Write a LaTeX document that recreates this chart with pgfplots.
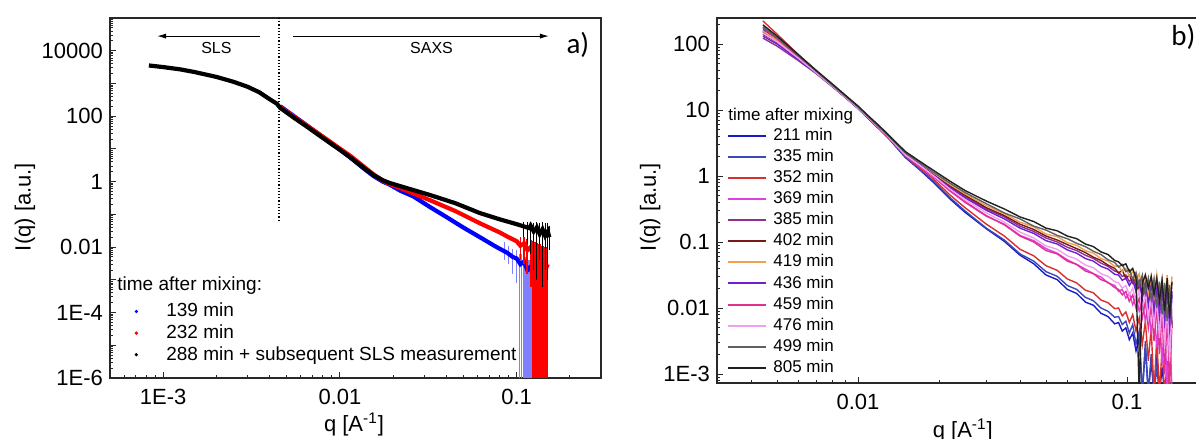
\documentclass[border=0pt]{standalone}
\usepackage{fontspec}
\setmainfont{Liberation Sans}
\newfontfamily\calibri{Carlito}
\usepackage{pgfplots}
\usepackage{pgfplotstable}
\pgfplotsset{compat=1.18}
\usetikzlibrary{arrows.meta}

\definecolor{cA}{RGB}{26,26,204}
\definecolor{cB}{RGB}{58,74,184}
\definecolor{cC}{RGB}{216,48,48}
\definecolor{cD}{RGB}{224,64,224}
\definecolor{cE}{RGB}{144,48,144}
\definecolor{cF}{RGB}{122,24,24}
\definecolor{cG}{RGB}{240,160,80}
\definecolor{cH}{RGB}{112,32,208}
\definecolor{cI}{RGB}{224,48,144}
\definecolor{cJ}{RGB}{240,160,240}
\definecolor{cK}{RGB}{96,96,96}
\definecolor{cL}{RGB}{32,32,32}
\definecolor{axgray}{RGB}{40,40,40}

\pgfplotstableread{
q      s211    s335    s352    s369    s385    s402    s419    s436    s459    s476    s499    s805
0.00443 166    158     224     151     123     141     158     132     174     145     182     195
0.005  118     113     141     110     93      106     114     100     120     108     125     132
0.006  64.5    62.0    69.0    61.5    56.0    60.5    62.5    58.5    64.0    61.0    66.0    69.0
0.007  37.9    36.8    38.5    36.5    35.5    36.5    37.0    36.0    37.5    36.5    38.5    39.8
0.008  23.6    23.1    23.5    23.2    22.8    23.2    23.4    23.0    23.5    23.2    24.0    25.1
0.009  15.4    15.3    15.6    15.5    15.4    15.5    15.6    15.5    15.6    15.5    16.0    16.6
0.010  10.5    10.6    10.8    10.7    10.7    10.8    10.8    10.7    10.8    10.7    11.1    11.5
0.011  7.20    7.30    7.45    7.45    7.50    7.50    7.55    7.45    7.45    7.45    7.65    7.94
0.012  5.10    5.20    5.28    5.30    5.35    5.35    5.40    5.32    5.30    5.30    5.45    5.75
0.013  3.70    3.75    3.82    3.85    3.90    3.90    3.95    3.88    3.85    3.85    3.98    4.17
0.015  1.905   1.950   1.995   2.042   2.138   2.138   2.188   2.138   2.089   2.089   2.239   2.344
0.017  1.230   1.259   1.318   1.380   1.479   1.514   1.549   1.479   1.413   1.445   1.585   1.660
0.019  0.8128  0.8511  0.9120  0.9772  1.072   1.096   1.122   1.047   1.000   1.023   1.148   1.230
0.022  0.4467  0.4677  0.5129  0.5888  0.6918  0.7079  0.7413  0.6607  0.6026  0.6310  0.7762  0.832
0.025  0.2818  0.2951  0.3311  0.3981  0.4898  0.5129  0.5370  0.4677  0.4074  0.4365  0.5623  0.6026
0.030  0.1585  0.1622  0.1862  0.2455  0.3162  0.3311  0.3548  0.3020  0.2512  0.2754  0.3802  0.4169
0.035  0.1023  0.1072  0.1230  0.1862  0.2399  0.2512  0.2692  0.2239  0.1820  0.1995  0.2754  0.3162
0.040  0.0631  0.0661  0.0776  0.1259  0.1738  0.1862  0.1995  0.1622  0.1230  0.1413  0.2239  0.2399
0.045  0.0468  0.0513  0.0617  0.1047  0.1445  0.1549  0.1698  0.1349  0.1000  0.1148  0.1738  0.2042
0.050  0.0316  0.0355  0.0437  0.0794  0.1148  0.1230  0.1318  0.1047  0.0741  0.0871  0.1514  0.1622
0.055  0.0269  0.0302  0.0372  0.0676  0.1000  0.1072  0.1202  0.0933  0.0661  0.0776  0.1259  0.1479
0.060  0.0191  0.0219  0.0275  0.0537  0.0832  0.0912  0.0977  0.0759  0.0513  0.0617  0.1122  0.1230
0.065  0.0166  0.0191  0.0240  0.0457  0.0741  0.0794  0.0891  0.0676  0.0457  0.0550  0.0955  0.1122
0.070  0.0123  0.0145  0.0186  0.0389  0.0631  0.0692  0.0741  0.0562  0.0363  0.0447  0.0851  0.0933
0.075  0.0110  0.0129  0.0170  0.0331  0.0562  0.0589  0.0676  0.0513  0.0331  0.0407  0.0724  0.0851
0.080  0.00832 0.0100  0.0132  0.0295  0.0479  0.0525  0.0562  0.0427  0.0269  0.0331  0.0646  0.0708
0.085  0.00741 0.00891 0.0120  0.0240  0.0427  0.0447  0.0513  0.0389  0.0245  0.0302  0.0537  0.0646
0.090  0.00575 0.00724 0.00977 0.0219  0.0363  0.0398  0.0427  0.0324  0.0204  0.0251  0.0490  0.0525
0.093  0.00603 0.00741 0.0100  0.0178  0.0347  0.0339  0.0437  0.0316  0.0191  0.0240  0.0417  0.0501
0.096  0.00447 0.00562 0.00759 0.0191  0.0302  0.0372  0.0355  0.0263  0.0158  0.0200  0.0457  0.0437
0.099  0.00501 0.00631 0.00871 0.0141  0.0316  0.0282  0.0398  0.0282  0.0178  0.0219  0.0355  0.0468
0.102  0.00331 0.00417 0.00603 0.0166  0.0251  0.0316  0.0302  0.0219  0.0126  0.0158  0.0380  0.0355
0.105  0.00417 0.00562 0.00794 0.0112  0.0282  0.0240  0.0363  0.0263  0.0158  0.0200  0.0275  0.0398
0.108  0.00224 0.00282 0.00447 0.0151  0.0209  0.0302  0.0251  0.0178  0.0100  0.0126  0.0347  0.0282
0.111  0.00355 0.00447 0.00708 0.00891 0.0263  0.0191  0.0331  0.0240  0.0141  0.0182  0.0219  0.0005
0.114  0.0005  0.0005  0.00282 0.0132  0.0166  0.0282  0.0200  0.0141  0.00708 0.0100  0.0316  0.0240
0.117  0.00251 0.00316 0.00631 0.00631 0.0251  0.0151  0.0316  0.0224  0.0126  0.0166  0.0166  0.0316
0.120  0.0005  0.0005  0.00158 0.0120  0.0126  0.0263  0.0166  0.0112  0.00501 0.00708 0.0282  0.0200
0.123  0.00158 0.00200 0.00501 0.00398 0.0240  0.0112  0.0302  0.0209  0.0112  0.0151  0.0132  0.0302
0.126  0.0005  0.0005  0.0005  0.0105  0.0100  0.0251  0.0141  0.00832 0.00316 0.00501 0.0269  0.0158
0.129  0.00200 0.00126 0.00355 0.00251 0.0224  0.00891 0.0316  0.0200  0.0100  0.0141  0.0100  0.0282
0.132  0.0005  0.0005  0.0005  0.00891 0.00759 0.0240  0.0112  0.00631 0.00200 0.00355 0.0251  0.0126
0.135  0.00126 nan     0.00251 0.00141 0.0209  0.00708 0.0302  0.0191  0.00891 0.0126  0.00794 0.0263
0.138  0.0005  nan     0.0005  0.00794 0.00631 0.0224  0.00891 0.00501 0.00100 0.00251 0.0240  0.00891
0.141  nan     nan     0.00158 0.0005  0.0200  0.00562 0.0316  0.0178  0.00794 0.0112  0.00631 0.0282
0.144  nan     nan     0.0005  0.00631 0.00501 0.0200  0.0100  0.00398 0.00063 0.00158 0.0224  0.00708
0.147  nan     nan     nan     0.0005  0.0178  0.00501 0.0302  0.0158  0.00631 0.0100  0.00562 0.0251
}\datab

\begin{document}
\begin{tikzpicture}
% ---------------- panel a ----------------
\begin{axis}[
  scale only axis,
  xmode=log, ymode=log,
  at={(55pt,30.5pt)}, anchor=south west,
  width=245.5pt, height=180pt,
  xmin=5e-4, xmax=0.3, ymin=1e-6, ymax=1e5,
  tick pos=left, tick align=inside,
  major tick length=2.8pt, minor tick length=1.6pt,
  axis line style={line width=0.7pt, color=axgray},
  tick style={axgray, line width=0.45pt},
  tick label style={font=\fontsize{11}{13}\selectfont},
  label style={font=\fontsize{11}{13}\selectfont},
  unbounded coords=jump,
  legend cell align=left,
  xtick={1e-3,1e-2,1e-1}, xticklabels={1E-3,0.01,0.1},
  minor xtick={6e-4,7e-4,8e-4,9e-4,2e-3,3e-3,4e-3,5e-3,6e-3,7e-3,8e-3,9e-3,0.02,0.03,0.04,0.05,0.06,0.07,0.08,0.09,0.2},
  ytick={1e-6,1e-5,1e-4,1e-3,1e-2,1e-1,1,10,100,1000,1e4,1e5},
  yticklabels={1E-6,,1E-4,,0.01,,1,,100,,10000,},
  minor ytick={2e-6,3e-6,4e-6,5e-6,6e-6,7e-6,8e-6,9e-6,
    2e-5,3e-5,4e-5,5e-5,6e-5,7e-5,8e-5,9e-5,
    2e-4,3e-4,4e-4,5e-4,6e-4,7e-4,8e-4,9e-4,
    2e-3,3e-3,4e-3,5e-3,6e-3,7e-3,8e-3,9e-3,
    0.02,0.03,0.04,0.05,0.06,0.07,0.08,0.09,
    0.2,0.3,0.4,0.5,0.6,0.7,0.8,0.9,
    2,3,4,5,6,7,8,9,20,30,40,50,60,70,80,90,
    200,300,400,500,600,700,800,900,
    2000,3000,4000,5000,6000,7000,8000,9000,
    2e4,3e4,4e4,5e4,6e4,7e4,8e4,9e4},
  xticklabel style={yshift=-2pt},
  xlabel={q [A\textsuperscript{-1}]}, ylabel={I(q) [a.u.]},
  xlabel style={at={(axis description cs:0.497,-0.13)}, anchor=center},
  ylabel style={at={(axis description cs:-0.173,0.475)}, anchor=center},
  legend style={at={(axis description cs:0.0305,0.209)}, anchor=north west,
    draw=none, fill=none, inner sep=0pt, row sep=2.4pt,
    font=\fontsize{9.5}{11}\selectfont,
    nodes={inner sep=0pt},
    /tikz/every odd column/.append style={column sep=9.5pt}},
  legend image code/.code={\path[draw=none,fill=none] (0pt,-1pt) rectangle (11pt,1pt); \fill[draw=none] (5.5pt,0pt) circle (0.9pt);},
]
% blue error bars
\addplot[color=blue!50, line width=0.6pt, forget plot] coordinates {
(0.085,0.014) (0.085,0.004) (0.085,nan)
(0.09,0.011) (0.09,0.003) (0.09,nan)
(0.095,0.009) (0.095,0.0015) (0.095,nan)
(0.1,0.008) (0.1,0.0008) (0.1,nan)
(0.104,0.006) (0.104,1e-7) (0.104,nan)
(0.107,0.006) (0.107,1e-7) (0.107,nan)
(0.110,0.005) (0.110,1e-7) (0.110,nan)
(0.113,0.005) (0.113,1e-7) (0.113,nan)
(0.116,0.004) (0.116,1e-7) (0.116,nan)
(0.119,0.004) (0.119,1e-7) (0.119,nan)
(0.122,0.003) (0.122,1e-7)};
% blue data 139 min
\addplot[color=blue, line width=2.1pt, forget plot] coordinates {
(0.0046,200) (0.0055,100) (0.0065,52.5) (0.0076,28.2) (0.0088,15.5) (0.010,9.55)
(0.0115,5.37) (0.0135,2.63) (0.0155,1.48) (0.0175,1.00) (0.0191,0.813) (0.022,0.525)
(0.026,0.355) (0.0324,0.166) (0.04,0.0832) (0.0495,0.0407) (0.062,0.020) (0.077,0.010)
(0.088,0.0068) (0.095,0.0050) (0.1,0.0045) (0.105,0.0030) (0.11,0.0036) (0.115,0.0020)
(0.12,0.0025) (0.123,0.0014)};
% red error bars
\addplot[color=red, line width=0.9pt, forget plot] coordinates {
(0.105,0.02) (0.105,0.004) (0.105,nan)
(0.11,0.02) (0.11,0.003) (0.11,nan)
(0.115,0.018) (0.115,0.0015) (0.115,nan)
(0.12,0.016) (0.12,0.0006) (0.12,nan)
(0.124,0.015) (0.124,1e-7) (0.124,nan)
(0.127,0.014) (0.127,1e-7) (0.127,nan)
(0.130,0.013) (0.130,1e-7) (0.130,nan)
(0.133,0.012) (0.133,1e-7) (0.133,nan)
(0.136,0.012) (0.136,1e-7) (0.136,nan)
(0.139,0.011) (0.139,1e-7) (0.139,nan)
(0.142,0.011) (0.142,1e-7) (0.142,nan)
(0.145,0.010) (0.145,1e-7) (0.145,nan)
(0.148,0.010) (0.148,1e-7)};
% red data 232 min
\addplot[color=red, line width=2.1pt, forget plot] coordinates {
(0.0046,190) (0.0055,95.5) (0.0065,51.3) (0.0076,28.8) (0.0088,16.6) (0.010,10.2)
(0.0115,6.03) (0.0135,3.02) (0.0155,1.66) (0.0175,1.07) (0.0191,0.851) (0.022,0.631)
(0.0324,0.269) (0.045,0.126) (0.0618,0.0537) (0.08,0.0282) (0.09,0.020) (0.1,0.0151)
(0.105,0.011) (0.11,0.013) (0.115,0.008) (0.12,0.010) (0.125,0.005) (0.13,0.007)
(0.135,0.003) (0.14,0.005) (0.145,0.002) (0.15,0.003)};
% black error bars
\addplot[color=black, line width=0.5pt, forget plot] coordinates {
(0.11,0.06) (0.11,0.02) (0.11,nan)
(0.115,0.06) (0.115,0.012) (0.115,nan)
(0.12,0.06) (0.12,0.006) (0.12,nan)
(0.125,0.055) (0.125,0.002) (0.125,nan)
(0.13,0.06) (0.13,0.001) (0.13,nan)
(0.135,0.055) (0.135,0.004) (0.135,nan)
(0.14,0.06) (0.14,0.0006) (0.14,nan)
(0.145,0.055) (0.145,0.002) (0.145,nan)
(0.15,0.055) (0.15,0.001) (0.15,nan)
(0.153,0.045) (0.153,0.008)};
% black data 288 min + SLS
\addplot[color=black, line width=2.1pt, forget plot] coordinates {
(8.3e-4,3548) (1.0e-3,3162) (1.25e-3,2692) (1.5e-3,2239) (2.0e-3,1585) (2.5e-3,1122)
(3.0e-3,794) (3.5e-3,537) (4.0e-3,331) (4.4e-3,240) (4.6e-3,178) (5.5e-3,89)
(6.5e-3,47.9) (7.6e-3,26.3) (8.8e-3,15.1) (0.010,9.33) (0.0115,5.37) (0.0135,2.75)
(0.0155,1.58) (0.0175,1.10) (0.0191,0.912) (0.022,0.724) (0.0324,0.389) (0.045,0.219)
(0.0618,0.110) (0.08,0.0708) (0.1,0.0501) (0.118,0.038) (0.12,0.045) (0.125,0.03)
(0.13,0.04) (0.135,0.025) (0.14,0.035) (0.145,0.022) (0.15,0.03) (0.153,0.02)};

\addlegendimage{blue}\addlegendentry{139 min}
\addlegendimage{red}\addlegendentry{232 min}
\addlegendimage{black}\addlegendentry{288 min + subsequent SLS measurement}

\node[anchor=west, font=\fontsize{9.5}{11}\selectfont, inner sep=0pt] at (axis description cs:0.0143,0.258) {time after mixing:};

\draw[densely dotted, line width=0.6pt] (axis cs:0.00452,1e5) -- (axis cs:0.00452,0.06);
\draw[-{Latex[length=4.5pt,width=2.6pt]}, line width=0.45pt] (axis cs:0.00353,2.8e4) -- (axis cs:9.25e-4,2.8e4);
\draw[-{Latex[length=4.5pt,width=2.6pt]}, line width=0.45pt] (axis cs:0.00542,2.8e4) -- (axis cs:0.152,2.8e4);
\node[font=\fontsize{8}{9}\selectfont] at (axis cs:0.0020,1.2e4) {SLS};
\node[font=\fontsize{8}{9}\selectfont] at (axis cs:0.033,1.2e4) {SAXS};
\node[anchor=west, inner sep=0pt, font=\calibri\fontsize{14.5}{17}\selectfont] at (axis description cs:0.929,0.925) {a)};
\end{axis}

% ---------------- panel b ----------------
\begin{axis}[
  scale only axis,
  xmode=log, ymode=log,
  at={(358.5pt,28pt)}, anchor=south west,
  width=240.5pt, height=182.5pt,
  xmin=0.00299, xmax=0.1836, ymin=7.3e-4, ymax=248,
  tick pos=left, tick align=inside,
  major tick length=2.8pt, minor tick length=1.6pt,
  axis line style={line width=0.7pt, color=axgray},
  tick style={axgray, line width=0.45pt},
  tick label style={font=\fontsize{11}{13}\selectfont},
  label style={font=\fontsize{11}{13}\selectfont},
  unbounded coords=jump,
  legend cell align=left,
  xtick={0.01,0.1}, xticklabels={0.01,0.1},
  minor xtick={3e-3,4e-3,5e-3,6e-3,7e-3,8e-3,9e-3,0.02,0.03,0.04,0.05,0.06,0.07,0.08,0.09},
  ytick={1e-3,0.01,0.1,1,10,100},
  yticklabels={1E-3,0.01,0.1,1,10,100},
  minor ytick={8e-4,9e-4,2e-3,3e-3,4e-3,5e-3,6e-3,7e-3,8e-3,9e-3,
    0.02,0.03,0.04,0.05,0.06,0.07,0.08,0.09,
    0.2,0.3,0.4,0.5,0.6,0.7,0.8,0.9,
    2,3,4,5,6,7,8,9,20,30,40,50,60,70,80,90,200},
  xticklabel style={yshift=-2pt},
  xlabel={q [A\textsuperscript{-1}]}, ylabel={I(q) [a.u.]},
  xlabel style={at={(axis description cs:0.511,-0.129)}, anchor=center},
  ylabel style={at={(axis description cs:-0.139,0.482)}, anchor=center},
  legend style={at={(axis description cs:0.0208,0.700)}, anchor=north west,
    draw=none, fill=none, inner sep=0pt, row sep=2.9pt,
    font=\fontsize{8.5}{10}\selectfont,
    nodes={inner sep=0pt},
    /tikz/every odd column/.append style={column sep=3pt}},
  legend image code/.code={\draw[line width=1pt] (0pt,0pt) -- (19pt,0pt);},
]
\addplot[color=cA, line width=0.7pt] table[x=q, y=s211] {\datab}; \addlegendentry{211 min}
\addplot[color=cB, line width=0.7pt] table[x=q, y=s335] {\datab}; \addlegendentry{335 min}
\addplot[color=cC, line width=0.7pt] table[x=q, y=s352] {\datab}; \addlegendentry{352 min}
\addplot[color=cD, line width=0.7pt] table[x=q, y=s369] {\datab}; \addlegendentry{369 min}
\addplot[color=cE, line width=0.7pt] table[x=q, y=s385] {\datab}; \addlegendentry{385 min}
\addplot[color=cF, line width=0.7pt] table[x=q, y=s402] {\datab}; \addlegendentry{402 min}
\addplot[color=cG, line width=0.7pt] table[x=q, y=s419] {\datab}; \addlegendentry{419 min}
\addplot[color=cH, line width=0.7pt] table[x=q, y=s436] {\datab}; \addlegendentry{436 min}
\addplot[color=cI, line width=0.7pt] table[x=q, y=s459] {\datab}; \addlegendentry{459 min}
\addplot[color=cJ, line width=0.7pt] table[x=q, y=s476] {\datab}; \addlegendentry{476 min}
\addplot[color=cK, line width=0.7pt] table[x=q, y=s499] {\datab}; \addlegendentry{499 min}
\addplot[color=cL, line width=0.7pt] table[x=q, y=s805] {\datab}; \addlegendentry{805 min}
\node[anchor=west, font=\fontsize{8.5}{10}\selectfont, inner sep=0pt] at (axis description cs:0.0229,0.732) {time after mixing};
\node[anchor=west, inner sep=0pt, font=\calibri\fontsize{14.5}{17}\selectfont] at (axis description cs:0.944,0.948) {b)};
\end{axis}

\pgfresetboundingbox
\path[use as bounding box] (0pt,0pt) rectangle (598pt,219.5pt);
\end{tikzpicture}
\end{document}
